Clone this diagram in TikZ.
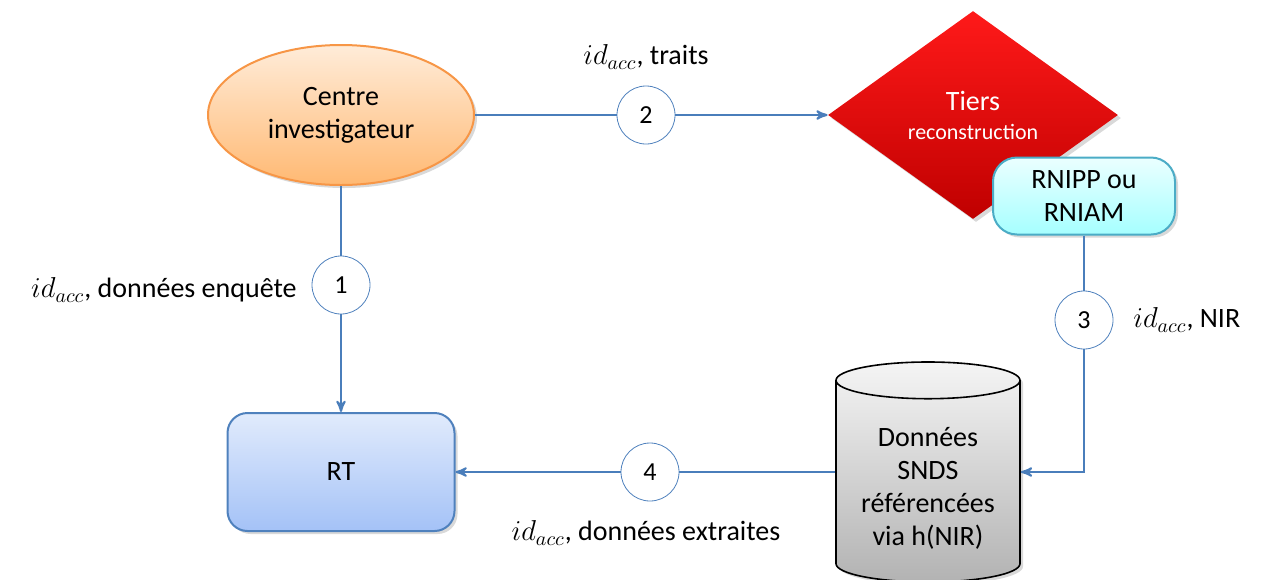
\documentclass[tikz,border=0pt]{standalone}
\usepackage{fontspec}
\setmainfont{Carlito}
\usepackage{tikz}
\usetikzlibrary{arrows,shapes.geometric,shadows}

\definecolor{flow}{HTML}{4A7EBB}
\definecolor{orangeb}{HTML}{F79646}
\definecolor{cyanb}{HTML}{4BACC6}
\definecolor{blueb}{HTML}{4F81BD}
\definecolor{rttop}{HTML}{E1EBFC}
\definecolor{rtbot}{HTML}{A4C2F7}

\tikzset{
  box/.style={align=center,font=\fontsize{14}{16.5}\selectfont,
    drop shadow={opacity=0.3,shadow xshift=1.5pt,shadow yshift=-1.5pt}},
  step num/.style={circle,draw=blueb,fill=white,minimum size=29pt,inner sep=0pt,
    font=\fontsize{13}{15}\selectfont},
  lbl/.style={font=\fontsize{14}{16}\selectfont,inner sep=0pt},
  flowline/.style={draw=flow,line width=1pt}
}

\begin{document}
\begin{tikzpicture}[x=0.5pt,y=-0.5pt,>=stealth']
 \useasboundingbox (0,0) rectangle (1268,579);

 \node[box,ellipse,draw=orangeb,line width=1pt,top color=orange!15,bottom color=orange!55!white,
   minimum width=133pt,minimum height=70pt] (centre) at (341,115) {Centre\\investigateur};
 \node[box,diamond,top color=red!90!white,bottom color=red!75!black,text=white,
   minimum width=145pt,minimum height=104pt,inner sep=0pt] (tiers) at (973,115)
   {Tiers\\[-2pt]{\fontsize{11}{13}\selectfont reconstruction}};
 \node[box,rectangle,rounded corners=12pt,draw=cyanb,line width=1pt,top color=cyan!8,bottom color=cyan!35,
   minimum width=91pt,minimum height=38.5pt] (rnipp) at (1084,196) {RNIPP ou\\RNIAM};
 \node[box,cylinder,shape border rotate=90,aspect=0.25,draw=black,line width=0.8pt,
   top color=gray!8,bottom color=gray!60,minimum width=92pt,minimum height=110pt,
   text depth=0pt] (snds) at (928,485) {\\[-6pt]Données\\SNDS\\référencées\\via h(NIR)};
 \node[box,rectangle,rounded corners=10pt,draw=blueb,line width=1pt,top color=rttop,bottom color=rtbot,
   minimum width=113.5pt,minimum height=59pt] (rt) at (341,472) {RT};

 \node[step num] (s1) at (341,285) {1};
 \node[step num] (s2) at (646,115) {2};
 \node[step num] (s3) at (1084,320) {3};
 \node[step num] (s4) at (650,472) {4};

 \path[flowline] (centre) -- (s2);
 \path[flowline,->] (s2) -- (tiers);
 \path[flowline] (centre) -- (s1);
 \path[flowline,->] (s1) -- (rt);
 \path[flowline] (rnipp) -- (s3);
 \path[flowline,->] (s3) |- (s4 -| snds.east);
 \path[flowline] (s4 -| snds.west) -- (s4);
 \path[flowline,->] (s4) -- (rt);

 \node[lbl,above=8pt] at (s2.north) {$id_{acc}$, traits};
 \node[lbl,anchor=east] at (297,290) {$id_{acc}$, données enquête};
 \node[lbl,anchor=west] at (1133,320) {$id_{acc}$, NIR};
 \node[lbl] at (646,533) {$id_{acc}$, données extraites};
\end{tikzpicture}
\end{document}
